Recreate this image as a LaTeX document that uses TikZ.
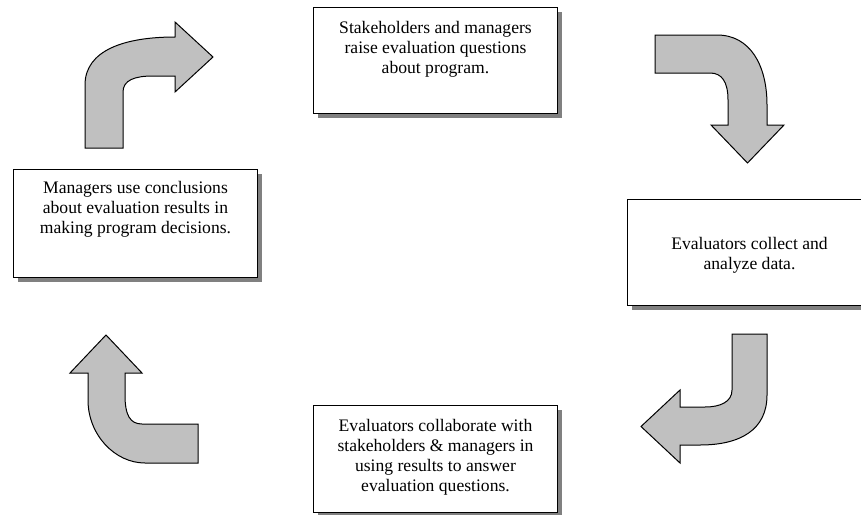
\documentclass[tikz,border=0pt]{standalone}
\usepackage{fontspec}
\setmainfont{Liberation Serif}
\usetikzlibrary{shadows}
\definecolor{arrowgray}{HTML}{C0C0C0}
\definecolor{shadowgray}{HTML}{808080}
\tikzset{
  stepbox/.style={draw=black, line width=1pt, fill=white, minimum width=244pt,
    inner sep=0pt, anchor=north west,
    general shadow={fill=shadowgray, shadow xshift=4pt, shadow yshift=-4pt}},
  msg/.style={anchor=north, align=center, inner sep=0pt,
    font=\fontsize{17.6}{20}\selectfont},
  bentarrow/.style={fill=arrowgray, draw=black, line width=1pt, line join=miter}
}
\begin{document}
\begin{tikzpicture}[x=1pt,y=-1pt]
\useasboundingbox (0,0) rectangle (861,514);
\clip (0,0) rectangle (861,514);

% the four stages of the cycle
\node[stepbox, minimum height=106pt] (raise)   at (313,7)   {};
\node[stepbox, minimum height=106pt] (collect) at (627,199) {};
\node[stepbox, minimum height=107pt] (collab)  at (313,405) {};
\node[stepbox, minimum height=108pt] (decide)  at (13,169)  {};

\node[msg] (raisetext) at ([yshift=-14pt]raise.north)
  {Stakeholders and managers\\raise evaluation questions\\about program.};
\node[msg] (collecttext) at ([yshift=-38pt]collect.north)
  {Evaluators collect and\\analyze data.};
\node[msg] (collabtext) at ([yshift=-14pt]collab.north)
  {Evaluators collaborate with\\stakeholders \& managers in\\using results to answer\\evaluation questions.};
\node[msg] (decidetext) at ([yshift=-12pt]decide.north)
  {Managers use conclusions\\about evaluation results in\\making program decisions.};

% bent block arrows between the stages
% up, then right
\draw[bentarrow] (85,148) -- (85,85) .. controls (85,50) and (125,37) .. (175,37)
  -- (175,22) -- (213,57) -- (175,92) -- (175,76) -- (153,76)
  .. controls (135,76) and (123,80) .. (123,92) -- (123,148) -- cycle;
% right, then down
\draw[bentarrow] (655,35) -- (717,35) .. controls (750,35) and (767,65) .. (767,105)
  -- (767,125) -- (784,125) -- (747.5,163) -- (711,125) -- (728,125) -- (728,100)
  .. controls (728,82) and (722,73) .. (710,73) -- (655,73) -- cycle;
% down, then left
\draw[bentarrow] (732,334) -- (767,334) -- (767,395) .. controls (767,430) and (740,445) .. (700,445)
  -- (680,445) -- (680,463) -- (641,426.5) -- (680,390) -- (680,407) -- (705,407)
  .. controls (720,407) and (732,402) .. (732,390) -- cycle;
% left, then up
\draw[bentarrow] (106,335) -- (142,373) -- (125,373) -- (125,395)
  .. controls (125,415) and (130,424) .. (142,424) -- (198,424) -- (198,463) -- (145,463)
  .. controls (115,463) and (88,435) .. (88,400) -- (88,373) -- (70,373) -- cycle;
\end{tikzpicture}
\end{document}
